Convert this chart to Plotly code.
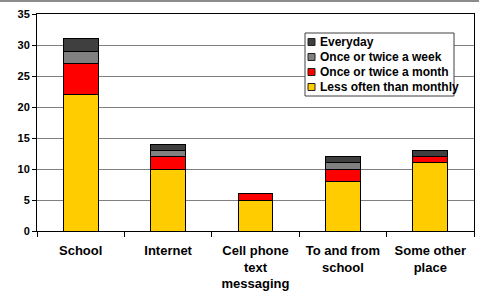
import plotly.graph_objects as go

categories = ["School", "Internet", "Cell phone<br>text<br>messaging", "To and from<br>school", "Some other<br>place"]
less_often = [22, 10, 5, 8, 11]
monthly = [5, 2, 1, 2, 1]
weekly = [2, 1, 0, 1, 0]
everyday = [2, 1, 0, 1, 1]
series = [
    ("Less often than monthly", less_often, "#FFCC00"),
    ("Once or twice a month", monthly, "#FF0000"),
    ("Once or twice a week", weekly, "#808080"),
    ("Everyday", everyday, "#3F3F3F"),
]
y_ticks = [0, 5, 10, 15, 20, 25, 30, 35]

W, H = 479, 295
L, R, T, B = 37, 5, 14, 64
PW, PH = W - L - R, H - T - B


def px(x):
    return (x - L) / PW


def py(y):
    return (H - B - y) / PH


fig = go.Figure()
for name, vals, col in series:
    fig.add_trace(go.Bar(x=categories, y=vals, name=name, showlegend=False,
                         marker=dict(color=col, line=dict(color="black", width=1))))

font = "Liberation Sans, Arial, sans-serif"
shapes = [
    dict(type="line", xref="paper", yref="paper", x0=px(0), x1=px(W),
         y0=py(1), y1=py(1), line=dict(color="#8C8C8C", width=2)),
    dict(type="rect", xref="paper", yref="paper", x0=px(305), x1=px(454),
         y0=py(96), y1=py(33), fillcolor="white", line=dict(color="#404040", width=1)),
]
annotations = []
row_y = [42, 57, 72, 87]
for (name, vals, col), yy in zip(reversed(series), row_y):
    shapes.append(dict(type="rect", xref="paper", yref="paper", x0=px(308), x1=px(315),
                       y0=py(yy + 3.5), y1=py(yy - 3.5), fillcolor=col,
                       line=dict(color="#202020", width=1)))
    annotations.append(dict(xref="paper", yref="paper", x=px(318), y=py(yy),
                            xanchor="left", yanchor="middle", showarrow=False, text=name,
                            font=dict(family=font, size=12, weight="bold", color="black")))

fig.update_layout(
    width=W, height=H,
    barmode="stack", bargap=0.6,
    margin=dict(l=L, r=R, t=T, b=B),
    paper_bgcolor="white", plot_bgcolor="white",
    font=dict(family=font, size=11, color="black"),
    xaxis=dict(showline=True, linecolor="black", linewidth=1, mirror=True, automargin=False,
               ticks="outside", tickson="boundaries", ticklen=5, tickcolor="black",
               ticklabelstandoff=7,
               tickfont=dict(family=font, size=13, weight="bold")),
    yaxis=dict(range=[0, 35], tickvals=y_ticks, showline=True, linecolor="black", automargin=False,
               linewidth=1, mirror=True, ticks="outside", ticklen=4, tickcolor="black",
               showgrid=True, gridcolor="#808080", gridwidth=1,
               tickfont=dict(family=font, size=11, weight="bold")),
    showlegend=False,
    shapes=shapes,
    annotations=annotations,
)
fig.write_html("out.html", config={"displayModeBar": False},
               post_script="document.body.style.margin='0';")
